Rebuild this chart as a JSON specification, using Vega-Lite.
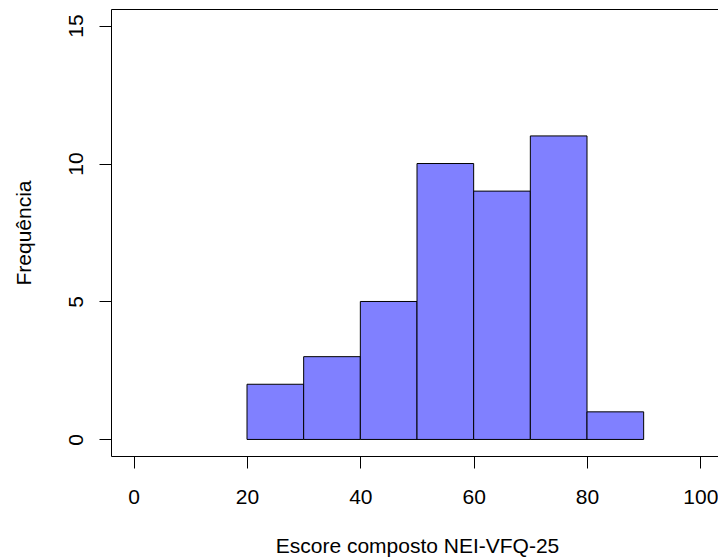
{
  "$schema": "https://vega.github.io/schema/vega-lite/v6.json",
  "width": 612,
  "height": 447,
  "autosize": {"type": "none"},
  "padding": {"left": 111, "top": 9, "right": 0, "bottom": 104},
  "background": "white",
  "config": {
    "font": "Liberation Sans",
    "view": {"stroke": "#000000", "strokeWidth": 1},
    "axis": {"grid": false, "domain": false, "tickColor": "#000000", "tickSize": 12, "tickWidth": 1,
             "labelColor": "#000000", "titleColor": "#000000", "labelFontSize": 21, "titleFontSize": 21,
             "titleFontWeight": "normal", "labelFont": "Liberation Sans", "titleFont": "Liberation Sans"}
  },
  "data": {
    "values": [
      {"bin_start": 20, "bin_end": 30, "count": 2},
      {"bin_start": 30, "bin_end": 40, "count": 3},
      {"bin_start": 40, "bin_end": 50, "count": 5},
      {"bin_start": 50, "bin_end": 60, "count": 10},
      {"bin_start": 60, "bin_end": 70, "count": 9},
      {"bin_start": 70, "bin_end": 80, "count": 11},
      {"bin_start": 80, "bin_end": 90, "count": 1}
    ]
  },
  "mark": {"type": "rect", "fill": "#8080ff", "stroke": "#000000", "strokeWidth": 1},
  "encoding": {
    "x": {
      "field": "bin_start", "type": "quantitative",
      "scale": {"domain": [-4, 104], "nice": false, "zero": false},
      "axis": {"values": [0, 20, 40, 60, 80, 100], "title": "Escore composto NEI-VFQ-25",
               "labelPadding": 18, "labelFlush": false, "labelOverlap": false,
               "titleY": 96, "titleBaseline": "alphabetic"}
    },
    "x2": {"field": "bin_end"},
    "y": {
      "field": "count", "type": "quantitative",
      "scale": {"domain": [-0.6, 15.6], "nice": false, "zero": false},
      "axis": {"values": [0, 5, 10, 15], "title": "Frequência", "labelAngle": 270,
               "labelAlign": "center", "labelBaseline": "alphabetic", "labelPadding": 17,
               "labelFlush": false, "labelOverlap": false,
               "titleX": -81, "titleBaseline": "alphabetic", "titleAngle": 270}
    },
    "y2": {"datum": 0}
  }
}
